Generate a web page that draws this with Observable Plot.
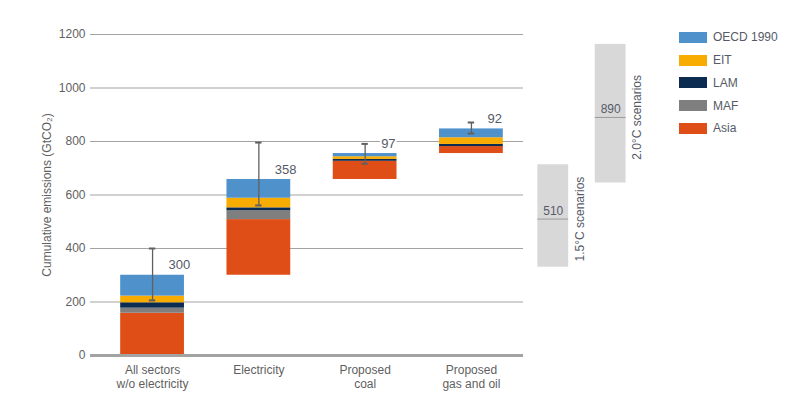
<!DOCTYPE html>
<html><head><meta charset="utf-8">
<script src="https://cdn.jsdelivr.net/npm/d3@7"></script>
<script src="https://cdn.jsdelivr.net/npm/@observablehq/plot@0.6"></script>
<style>
body{margin:0;background:#fff;}
#chart{position:relative;width:802px;height:399px;font-family:"Liberation Sans",Arial,sans-serif;}
#legend{position:absolute;left:679px;top:26px;font-size:12px;color:#555a66;}
.item{display:flex;align-items:center;height:22.75px;}
.sw{width:28px;height:11px;margin-right:6px;}
</style></head><body><div id="chart"></div>
<script>
// ---- data ----
const categoryLine1 = ["All sectors", "Electricity", "Proposed", "Proposed"];
const categoryLine2 = ["w/o electricity", "", "coal", "gas and oil"];
const regions = ["OECD 1990", "EIT", "LAM", "MAF", "Asia"];
const regionColors = ["#4f91cb", "#f8ab00", "#0b2b50", "#7f7f7f", "#e04e17"];
const oecd = [78, 70, 12, 33];
const eit  = [25, 36, 10, 25];
const lam  = [20, 11, 7, 8];
const maf  = [19, 33, 0, 0];
const asia = [158, 208, 68, 26];
const totals = [300, 358, 97, 92];
const errLow  = [206, 561, 717, 830];
const errHigh = [400, 796, 791, 871];
const scenarioLabels = ["1.5°C scenarios", "2.0°C scenarios"];
const scenLow = [330, 645];
const scenMedian = [510, 890];
const scenHigh = [713, 1163];
const yTicks = [0, 200, 400, 600, 800, 1000, 1200];

// ---- layout (not data) ----
const xLeft = -0.584, xRight = 3.49;
const barHalf = 0.3, scenHalf = 0.145, capHalf = 0.03;
const scenX = [3.77, 4.31];
const font = '"Liberation Sans",Arial,sans-serif';

// derived tables
const seriesBottomUp = [asia, maf, lam, eit, oecd];
const namesBottomUp = ["Asia", "MAF", "LAM", "EIT", "OECD 1990"];
const segs = [];
const bases = [];
let run = 0;
totals.forEach((t, i) => {
  bases.push(run);
  let y = run;
  seriesBottomUp.forEach((s, k) => {
    if (s[i] > 0) segs.push({i, region: namesBottomUp[k], y1: y, y2: y + s[i]});
    y += s[i];
  });
  run += t;
});
const bars = totals.map((t, i) => ({i, top: bases[i] + t, total: t, lo: errLow[i], hi: errHigh[i], l1: categoryLine1[i], l2: categoryLine2[i]}));
const scen = scenarioLabels.map((l, k) => ({x: scenX[k], label: l, lo: scenLow[k], med: scenMedian[k], hi: scenHigh[k]}));

const plot = Plot.plot({
  width: 802, height: 399,
  marginLeft: 90, marginRight: 0, marginTop: 34, marginBottom: 44,
  style: {fontFamily: font, fontSize: "12px", color: "#5f5f5f", background: "transparent"},
  x: {type: "linear", domain: [xLeft, xRight], range: [90, 523], axis: null},
  y: {domain: [0, 1200]},
  color: {domain: regions, range: regionColors},
  marks: [
    Plot.ruleY(yTicks.filter(d => d > 0), {x1: xLeft, x2: xRight, stroke: "#a3a3a3", strokeWidth: 1}),
    Plot.rect(scen, {x1: d => d.x - scenHalf, x2: d => d.x + scenHalf, y1: "lo", y2: "hi", fill: "#d9d8d9"}),
    Plot.ruleY(scen, {y: "med", x1: d => d.x - scenHalf, x2: d => d.x + scenHalf, stroke: "#9a9a9a", strokeWidth: 1}),
    Plot.text(scen, {x: "x", y: "med", text: d => String(d.med), dy: -8, fill: "#555a66", fontSize: 12}),
    Plot.text(scen, {x: "x", y: "med", text: "label", rotate: -90, dx: 27, fill: "#555a66", fontSize: 12}),
    Plot.rect(segs, {x1: d => d.i - barHalf, x2: d => d.i + barHalf, y1: "y1", y2: "y2", fill: "region"}),
    Plot.ruleY([0], {x1: xLeft, x2: xRight, stroke: "#a3a3a3", strokeWidth: 3}),
    Plot.ruleX(bars, {x: "i", y1: "lo", y2: "hi", stroke: "#606060", strokeWidth: 1.3}),
    Plot.ruleY(bars, {y: "lo", x1: d => d.i - capHalf, x2: d => d.i + capHalf, stroke: "#606060", strokeWidth: 2}),
    Plot.ruleY(bars, {y: "hi", x1: d => d.i - capHalf, x2: d => d.i + capHalf, stroke: "#606060", strokeWidth: 2}),
    Plot.text(bars, {x: "i", y: "top", text: d => String(d.total), dx: 16, dy: -10, textAnchor: "start", fill: "#555a66", stroke: "white", strokeWidth: 4, paintOrder: "stroke", fontSize: 13}),
    Plot.text(bars, {x: "i", y: 0, text: "l1", dy: 15, fill: "#5f5f5f", fontSize: 12}),
    Plot.text(bars, {x: "i", y: 0, text: "l2", dy: 29, fill: "#5f5f5f", fontSize: 12}),
    Plot.axisY({ticks: yTicks, tickSize: 0, tickPadding: 5, tickFormat: d => String(d), label: "Cumulative emissions (GtCO₂)", labelAnchor: "center", labelArrow: "none", labelOffset: 48}),
  ]
});
const chart = document.getElementById("chart");
chart.appendChild(plot);
const legend = document.createElement("div");
legend.id = "legend";
regions.forEach((r, k) => {
  const it = document.createElement("div");
  it.className = "item";
  it.innerHTML = `<span class="sw" style="background:${regionColors[k]}"></span><span>${r}</span>`;
  legend.appendChild(it);
});
chart.appendChild(legend);
</script></body></html>
